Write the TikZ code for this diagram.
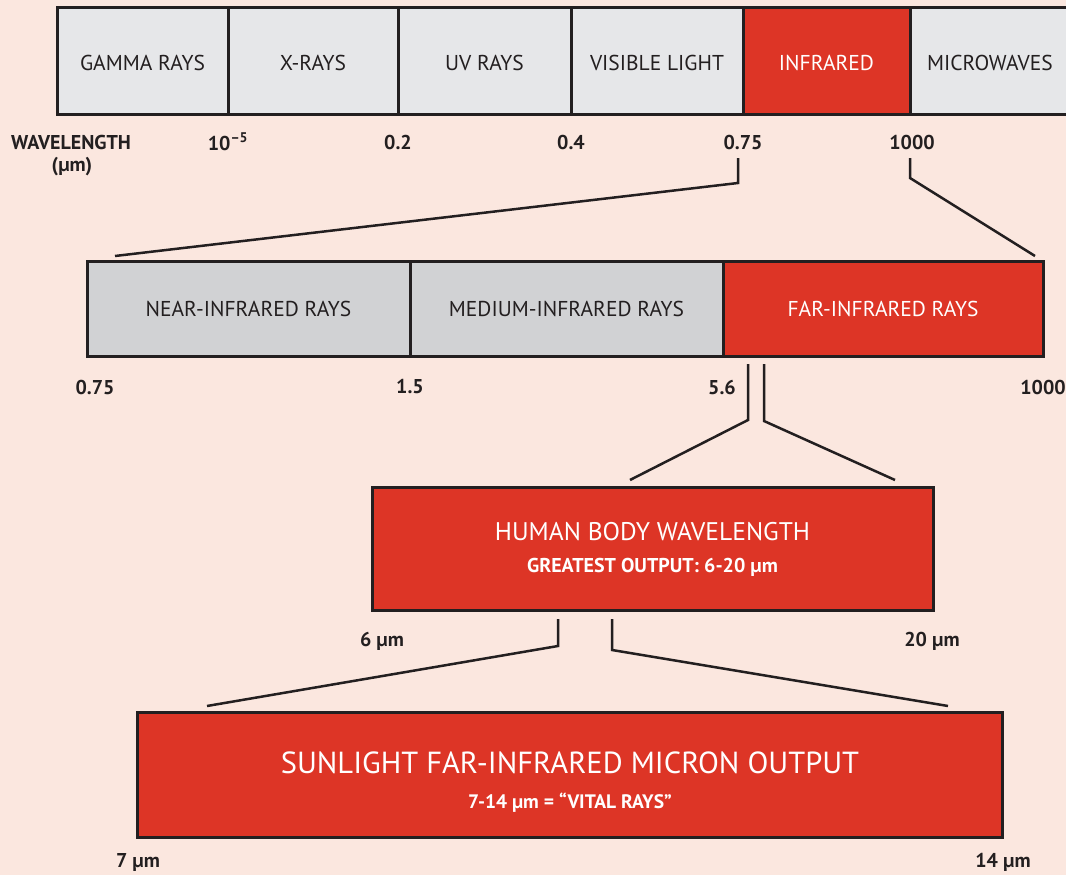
\documentclass[tikz,border=0pt]{standalone}
\usepackage{fontspec}
\setmainfont{PT Sans}

\definecolor{bgPink}{RGB}{251,231,223}
\definecolor{irRed}{RGB}{221,53,38}
\definecolor{lightGray}{RGB}{230,231,233}
\definecolor{midGray}{RGB}{209,210,212}
\definecolor{inkBlack}{RGB}{35,31,32}

\begin{document}
\begin{tikzpicture}
[x=1pt,y=-1pt,
  bandDecorate/.style={draw=inkBlack,line width=3pt,inner sep=0pt,font=\fontsize{21.5}{25}\selectfont},%
  topGray/.style={bandDecorate,fill=lightGray,text=inkBlack,minimum height=106pt,text height=19pt},%
  topRed/.style={bandDecorate,fill=irRed,text=white,minimum height=106pt,text height=19pt},%
  midBand/.style={bandDecorate,fill=midGray,text=inkBlack,minimum height=95pt},%
  midRed/.style={bandDecorate,fill=irRed,text=white,minimum height=95pt},%
  redBox/.style={draw=inkBlack,line width=3pt,fill=irRed,inner sep=0pt},%
  numDecorate/.style={inner sep=0pt,text=inkBlack,font=\bfseries\fontsize{20}{24}\selectfont},%
  boxText/.style={inner sep=0pt,text=white},%
  lineDecorate/.style={-,line width=2.5pt,draw=inkBlack,line join=miter}]
\useasboundingbox (0,0) rectangle (1066,875);
\fill[bgPink] (0,0) rectangle (1066,875);
%% spectrum bar
\foreach \nodename/\x/\w/\kind/\lab in {gamma/142.5/171/topGray/GAMMA RAYS, xray/313/170/topGray/X-RAYS,
  uv/484.5/173/topGray/UV RAYS, visible/657/172/topGray/VISIBLE LIGHT, infrared/826.5/167/topRed/INFRARED,
  microwave/990/160/topGray/MICROWAVES}
{
  \node (\nodename) at (\x,61) [\kind,minimum width=\w pt] {\lab};
}
%% wavelength labels
\node (wave) at (71,142) [numDecorate] {WAVELENGTH};
\node (waveunit) at (72,167) [numDecorate] {(µm)};
\foreach \nodename/\x/\lab in {wa/228/10\textsuperscript{–5}, wb/398/0.2, wc/571/0.4, wd/743/0.75, we/912/1000}
{
  \node (\nodename) at (\x,142) [numDecorate] {\lab};
}
%% infrared bar
\foreach \nodename/\x/\w/\kind/\lab in {near/248.5/323/midBand/NEAR-INFRARED RAYS,
  medium/566.5/313/midBand/MEDIUM-INFRARED RAYS, far/883/320/midRed/FAR-INFRARED RAYS}
{
  \node (\nodename) at (\x,308.5) [\kind,minimum width=\w pt] {\lab};
}
\foreach \nodename/\x/\lab in {ra/95/0.75, rb/410/1.5, rc/722/5.6, rd/1043/1000}
{
  \node (\nodename) at (\x,387) [numDecorate] {\lab};
}
%% human body box
\node (human) at (652.5,548.5) [redBox,minimum width=561pt,minimum height=123pt] {};
\node (humantitle) at (652.5,531.5) [boxText,font=\fontsize{25.5}{30}\selectfont] {HUMAN BODY WAVELENGTH};
\node (humansub) at (652.5,567) [boxText,font=\bfseries\fontsize{20}{24}\selectfont] {GREATEST OUTPUT: 6-20 µm};
\node (ha) at (382,641) [numDecorate] {6 µm};
\node (hb) at (932,641) [numDecorate] {20 µm};
%% sunlight box
\node (sun) at (569.5,774.5) [redBox,minimum width=865pt,minimum height=125pt] {};
\node (suntitle) at (570,763) [boxText,font=\fontsize{30.5}{35}\selectfont] {SUNLIGHT FAR-INFRARED MICRON OUTPUT};
\node (sunsub) at (570,803) [boxText,font=\bfseries\fontsize{19.5}{23}\selectfont] {7-14 µm = “VITAL RAYS”};
\node (sa) at (138,862) [numDecorate] {7 µm};
\node (sb) at (1003,862) [numDecorate] {14 µm};
%% connector points
\foreach \nodename/\x/\y in {p1/738/158, p2/738/183, p3/115/256, q1/910/158, q2/910/178, q3/1035/256,
  p4/748/364, p5/748/420, p6/630/480, q4/764/364, q5/764/421, q6/895/480,
  p7/558/619, p8/558/646, p9/207/706, q7/612/619, q8/612/650, q9/948/706}
{
  \coordinate (\nodename) at (\x,\y);
}
%% connectors
\foreach \a/\b/\c in {p1/p2/p3, q1/q2/q3, p4/p5/p6, q4/q5/q6, p7/p8/p9, q7/q8/q9}
{
  \draw[lineDecorate] (\a) -- (\b) -- (\c);
}
\end{tikzpicture}
\end{document}
